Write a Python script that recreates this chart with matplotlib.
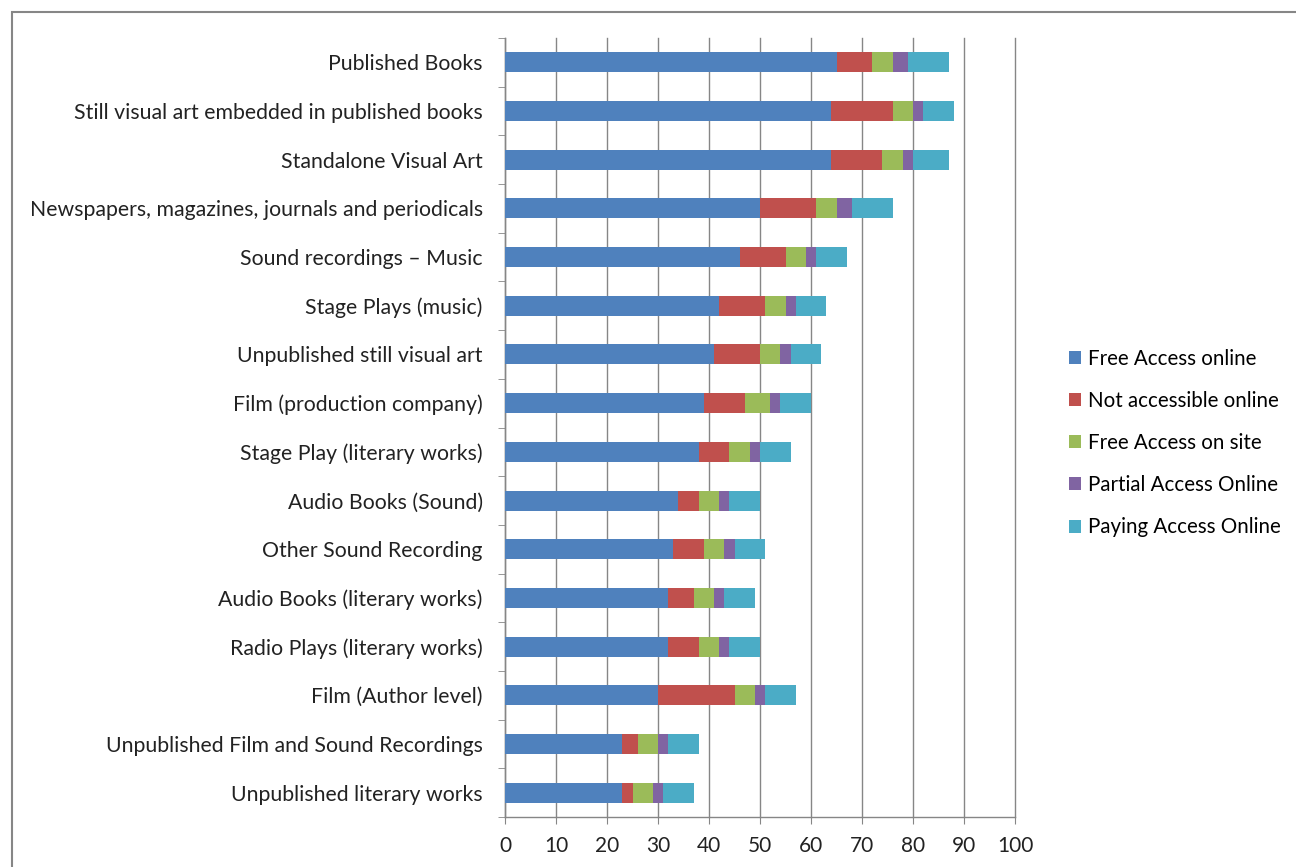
import matplotlib
matplotlib.use("Agg")
import matplotlib.pyplot as plt
import numpy as np
from matplotlib.patches import Rectangle

categories = [
    "Published Books",
    "Still visual art embedded in published books",
    "Standalone Visual Art",
    "Newspapers, magazines, journals and periodicals",
    "Sound recordings \u2013 Music",
    "Stage Plays (music)",
    "Unpublished still visual art",
    "Film (production company)",
    "Stage Play (literary works)",
    "Audio Books (Sound)",
    "Other Sound Recording",
    "Audio Books (literary works)",
    "Radio Plays (literary works)",
    "Film (Author level)",
    "Unpublished Film and Sound Recordings",
    "Unpublished literary works",
]
series_names = ["Free Access online", "Not accessible online", "Free Access on site",
                "Partial Access Online", "Paying Access Online"]
free_online = [65, 64, 64, 50, 46, 42, 41, 39, 38, 34, 33, 32, 32, 30, 23, 23]
not_online = [7, 12, 10, 11, 9, 9, 9, 8, 6, 4, 6, 5, 6, 15, 3, 2]
free_site = [4, 4, 4, 4, 4, 4, 4, 5, 4, 4, 4, 4, 4, 4, 4, 4]
partial_online = [3, 2, 2, 3, 2, 2, 2, 2, 2, 2, 2, 2, 2, 2, 2, 2]
paying_online = [8, 6, 7, 8, 6, 6, 6, 6, 6, 6, 6, 6, 6, 6, 6, 6]
x_ticks = [0, 10, 20, 30, 40, 50, 60, 70, 80, 90, 100]

colors = ["#4F81BD", "#C0504D", "#9BBB59", "#8064A2", "#4BACC6"]

plt.rcParams['font.family'] = ['Lato', 'DejaVu Sans']

W, H = 1296, 867
fig = plt.figure(figsize=(W / 100, H / 100), dpi=100)
ax = fig.add_axes([505 / W, 1 - 817 / H, (1015 - 505) / W, (817 - 38) / H])

# outer frame
fig.patches.append(Rectangle((12 / W, -0.1), 1.2, 1 - 12 / H + 0.1,
                             transform=fig.transFigure, fill=False,
                             edgecolor="#868686", linewidth=1.5))

n = len(categories)
y = np.arange(n)[::-1]
series = [free_online, not_online, free_site, partial_online, paying_online]
left = np.zeros(n)
for vals, name, c in zip(series, series_names, colors):
    vals = np.array(vals, dtype=float)
    ax.barh(y, vals, left=left, height=0.41, color=c, label=name, zorder=3)
    left += vals

ax.set_xlim(0, 100)
ax.set_ylim(-0.5, n - 0.5)
ax.set_xticks(x_ticks)
ax.set_xticklabels([str(t) for t in x_ticks], fontsize=15, color="#222222")
ax.set_yticks(y)
ax.set_yticklabels(categories, fontsize=15.3, color="#222222")
ax.tick_params(axis='y', length=0, pad=16)
ax.set_yticks(np.arange(-0.5, n, 1.0), minor=True)
ax.tick_params(axis='y', which='minor', length=5, color="#868686", direction='out')
ax.tick_params(axis='x', length=5, color="#868686", direction='out', pad=9)
ax.grid(axis='x', color="#868686", linewidth=1.0, zorder=0)
for gl in ax.get_xgridlines():
    gl.set_clip_on(False)
for s in ['top', 'right']:
    ax.spines[s].set_visible(False)
for s in ['left', 'bottom']:
    ax.spines[s].set_color("#868686")
    ax.spines[s].set_linewidth(1.0)

leg = fig.legend(loc='center left', bbox_to_anchor=(1050 / W, 1 - 443 / H),
                 frameon=False, fontsize=14.8, handlelength=0.6, handleheight=0.6,
                 handletextpad=0.35, labelspacing=1.08)

fig.savefig("out.png", dpi=100, facecolor="white")
